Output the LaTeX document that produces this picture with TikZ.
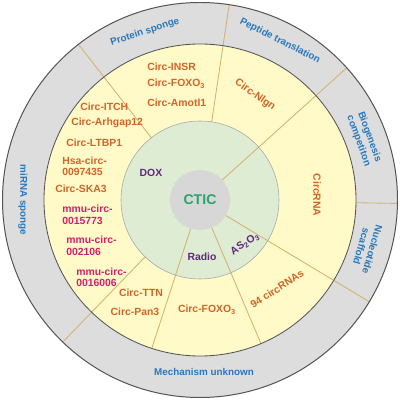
\documentclass[tikz,border=0pt]{standalone}
\usepackage{fontspec}
\setmainfont{Liberation Sans}
\usepackage{tikz}

\definecolor{ringgray}{RGB}{221,221,221}
\definecolor{ringyellow}{RGB}{255,250,200}
\definecolor{ringgreen}{RGB}{222,236,212}
\definecolor{coregray}{RGB}{215,215,215}
\definecolor{edgegray}{RGB}{85,85,85}
\definecolor{splittan}{RGB}{212,178,110}
\definecolor{txtorange}{RGB}{210,100,40}
\definecolor{txtpink}{RGB}{215,30,110}
\definecolor{txtpurple}{RGB}{95,40,125}
\definecolor{txtblue}{RGB}{40,120,190}
\definecolor{txtgreen}{RGB}{40,165,105}

\begin{document}
\begin{tikzpicture}[x=0.025cm, y=0.025cm,
	modelabel/.style={text=txtblue, font=\fontsize{7}{8.2}\selectfont\bfseries, align=center, inner sep=0pt},
	circlabel/.style={text=txtorange, font=\fontsize{7.4}{8.2}\selectfont\bfseries, align=left, inner sep=0pt},
	mmulabel/.style={circlabel, text=txtpink},
	druglabel/.style={text=txtpurple, font=\fontsize{7.4}{8.2}\selectfont\bfseries, inner sep=0pt},
	split/.style={draw=splittan, line width=0.6pt}]
	
	\useasboundingbox (-200, -200) rectangle (200, 200);
	
	\fill[ringgray] (0, 0) circle (198);
	\fill[ringyellow] (0, 0) circle (156);
	\fill[ringgreen] (0, 0) circle (79);
	
	\draw[split] (128:79) -- (128:198);
	\draw[split] (81.5:79) -- (81.5:198);
	\draw[split] (42:30) -- (42:198);
	\draw[split] (-1:156) -- (-1:198);
	\draw[split] (-31:30) -- (-31:198);
	\draw[split] (-67:30) -- (-67:156);
	\draw[split] (-108:30) -- (-108:156);
	\draw[split] (-134:79) -- (-134:198);
	
	\draw[edgegray, line width=0.7pt] (0, 0) circle (197.5);
	\draw[edgegray, line width=0.6pt] (0, 0) circle (156);
	\draw[black!35, line width=0.4pt] (0, 0) circle (79);
	\fill[coregray] (0, 0) circle (30);
	
	\node[modelabel, rotate=18] (protsponge) at (-55, 168) {Protein sponge};
	\node[modelabel, rotate=-27] (peptide) at (80, 159) {Peptide translation};
	\node[modelabel, rotate=-70] (biogen) at (164, 61) {Biogenesis\\competiton};
	\node[modelabel, rotate=-106] (nucleo) at (167, -48) {Nucleotide\\scaffold};
	\node[modelabel] (mechunk) at (4, -172) {Mechanism unknown};
	\node[modelabel, rotate=-90] (mirna) at (-177, 0) {miRNA sponge};
	
	\node[circlabel, anchor=west] (insr) at (-53, 133) {Circ-INSR};
	\node[circlabel, anchor=west] (foxoa) at (-53, 116) {Circ-FOXO\textsubscript{3}};
	\node[circlabel, anchor=west] (amotl) at (-53, 97) {Circ-Amotl1};
	\node[circlabel, rotate=-35] (nlgn) at (55, 105) {Circ-Nlgn};
	\node[circlabel, rotate=-90] (circrna) at (117, 5) {CircRNA};
	\node[circlabel, rotate=33] (ninetyfour) at (77, -89) {94 circRNAs};
	\node[circlabel] (foxob) at (7, -110) {Circ-FOXO\textsubscript{3}};
	\node[circlabel] (ttn) at (-59, -93) {Circ-TTN};
	\node[circlabel] (pan) at (-65, -112) {Circ-Pan3};
	
	\node[circlabel, anchor=west] (itch) at (-120, 93) {Circ-ITCH};
	\node[circlabel, anchor=west] (arhgap) at (-129, 77) {Circ-Arhgap12};
	\node[circlabel, anchor=west] (ltbp) at (-134, 57) {Circ-LTBP1};
	\node[circlabel, anchor=west] (hsa) at (-138, 33.5) {Hsa-circ-\\0097435};
	\node[circlabel, anchor=west] (ska) at (-145, 11) {Circ-SKA3};
	\node[mmulabel, anchor=west] (mmua) at (-138, -15) {mmu-circ-\\0015773};
	\node[mmulabel, anchor=west] (mmub) at (-134, -46) {mmu-circ-\\002106};
	\node[mmulabel, anchor=west] (mmuc) at (-124, -77.5) {mmu-circ-\\0016006};
	
	\node[druglabel] (dox) at (-49, 27) {DOX};
	\node[druglabel] (radio) at (2, -57) {Radio};
	\node[druglabel, rotate=33] (aso) at (45, -44) {AS\textsubscript{2}O\textsubscript{3}};
	\node[text=txtgreen, font=\fontsize{10}{12}\selectfont\bfseries] (ctic) at (0, 0) {CTIC};
	
\end{tikzpicture}
\end{document}
